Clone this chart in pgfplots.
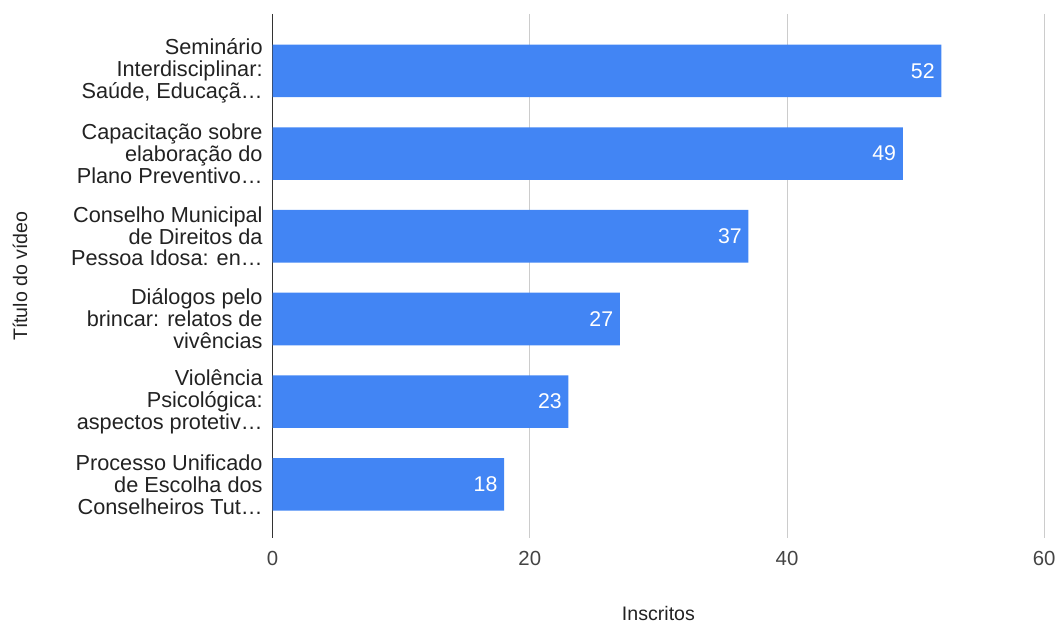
\documentclass[border=0pt]{standalone}
\usepackage{pgfplots}
\pgfplotsset{compat=1.18}
\usepackage{fontspec}
\setmainfont{Liberation Sans}
\definecolor{barblue}{HTML}{4285F4}
\definecolor{txt}{HTML}{222222}
\definecolor{tick}{HTML}{444444}
\definecolor{gridc}{HTML}{CCCCCC}
\begin{document}
\begin{tikzpicture}
\begin{axis}[
  at={(0,0)}, anchor=south west,
  scale only axis,
  width=579.5pt, height=393.75pt,
  xbar, bar width=39.5pt,
  xmin=0, xmax=60,
  ymin=-0.688, ymax=5.652,
  y dir=reverse,
  xtick={0,20,40,60},
  ytick={0,1,2,3,4,5},
  yticklabels={{Seminário\\Interdisciplinar:\\Saúde, Educaçã…},
               {Capacitação sobre\\elaboração do\\Plano Preventivo…},
               {Conselho Municipal\\de Direitos da\\Pessoa Idosa: en…},
               {Diálogos pelo\\brincar: relatos de\\vivências},
               {Violência\\Psicológica:\\aspectos protetiv…},
               {Processo Unificado\\de Escolha dos\\Conselheiros Tut…}},
  yticklabel style={align=right, font=\fontsize{16.3}{16.5}\selectfont, text=txt, xshift=-4pt},
  xticklabel style={font=\fontsize{15.3}{16}\selectfont, text=tick, yshift=-6pt},
  /pgf/number format/assume math mode=true,
  major tick length=0pt,
  xmajorgrids, grid style={gridc, line width=0.75pt},
  separate axis lines,
  x axis line style={draw=none},
  y axis line style={draw=black!80, line width=1.1pt},
  axis y line*=left,
  xlabel={Inscritos},
  ylabel={Título do vídeo},
  xlabel style={font=\fontsize{14.7}{16}\selectfont, text=txt, at={(axis description cs:0.5,-0.143)}, anchor=center},
  ylabel style={font=\fontsize{14.7}{16}\selectfont, text=txt, at={(axis description cs:-0.3275,0.5)}, anchor=center},
  nodes near coords,
  every node near coord/.append style={anchor=east, text=white, font=\fontsize{16}{16}\selectfont, xshift=-1.5pt},
  point meta=x,
]
\addplot[fill=barblue, draw=none] coordinates {(52,0) (49,1) (37,2) (27,3) (23,4) (18,5)};
\end{axis}
\path[use as bounding box] (-204.75pt,-64.5pt) rectangle (590.25pt,404.25pt);
\end{tikzpicture}
\end{document}
